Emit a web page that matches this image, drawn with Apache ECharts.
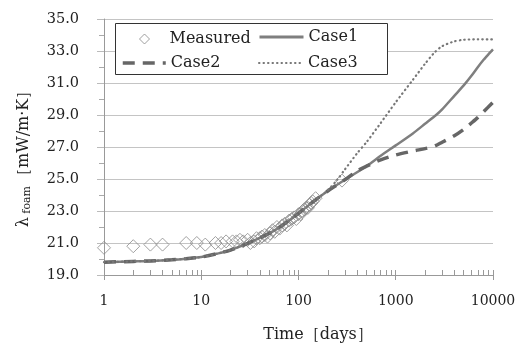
<!DOCTYPE html>
<html><head><meta charset="utf-8">
<script src="https://cdn.jsdelivr.net/npm/echarts@6/dist/echarts.min.js"></script>
<style>html,body{margin:0;padding:0;background:#fff}#c{width:528px;height:345px}</style>
</head><body><div id="c"></div>
<script>
// Measured data
var measX = [1,2,3,4,7,9,11,14,16,18,21,23,25,27,30,32,35,37,40,42,45,48,51,54,57,60,64,68,72,76,80,85,90,95,100,105,110,115,120,125,130,135,140,150,280];
var measY = [20.7,20.8,20.9,20.9,21.0,21.0,20.9,21.0,21.0,21.1,21.1,21.1,21.2,21.1,21.2,21.0,21.1,21.3,21.3,21.4,21.5,21.4,21.6,21.8,21.7,22.0,21.9,22.1,22.2,22.1,22.4,22.5,22.6,22.5,22.8,22.8,23.0,23.1,23.2,23.2,23.4,23.5,23.6,23.8,24.9];
// Model curves
var case1X = [1,2,3,5,7,10,15,20,30,50,70,100,150,200,300,500,700,1000,1500,2000,2600,3000,4000,5000,6000,7000,8000,9000,10000];
var case1Y = [19.8,19.85,19.88,19.95,20.02,20.12,20.35,20.56,20.98,21.6,22.15,22.85,23.7,24.25,24.95,25.8,26.45,27.1,27.85,28.45,29.0,29.35,30.2,30.85,31.45,32.0,32.45,32.8,33.1];
var case2X = [1,2,3,5,7,10,15,20,30,50,70,100,150,200,300,400,500,700,1000,1500,2000,2500,3000,4000,5000,6000,7000,8000,10000];
var case2Y = [19.8,19.85,19.88,19.95,20.02,20.12,20.35,20.56,20.98,21.6,22.15,22.85,23.7,24.25,24.95,25.5,25.8,26.2,26.5,26.75,26.9,27.05,27.3,27.7,28.1,28.5,28.85,29.2,29.8];
var case3X = [1,2,3,5,7,10,15,20,30,50,70,100,150,200,250,300,400,500,700,1000,1500,2000,2500,3000,4000,5000,7000,10000];
var case3Y = [19.8,19.85,19.88,19.95,20.02,20.12,20.35,20.56,20.98,21.6,22.15,22.85,23.7,24.3,24.95,25.6,26.6,27.3,28.5,29.8,31.2,32.2,32.9,33.3,33.6,33.7,33.73,33.72];
var xTickLabels = ['1','10','100','1000','10000'];

function pairs(xs, ys){ return xs.map(function(x,i){ return [x, ys[i]]; }); }

var FONT = 'DejaVu Serif';
var hideSym = {color:'rgba(0,0,0,0)', borderWidth:0, opacity:0};
var chart = echarts.init(document.getElementById('c'), null, {renderer:'canvas'});
chart.setOption({
  animation:false,
  backgroundColor:'#fff',
  grid:{left:104, right:35, top:19, bottom:70, containLabel:false},
  xAxis:[{
    type:'log', logBase:10, min:1, max:10000,
    axisLine:{show:true, lineStyle:{color:'#999', width:1}},
    axisTick:{show:true, length:5, lineStyle:{color:'#999'}},
    minorTick:{show:false},
    splitLine:{show:false},
    axisLabel:{fontFamily:FONT, fontSize:14, color:'#222', margin:19,
      formatter:function(v){ var s=String(Math.round(v)); return xTickLabels.indexOf(s)>=0?s:''; }}
  },{
    type:'log', logBase:10, min:1, max:10000, position:'bottom', offset:0,
    axisLine:{show:false},
    axisTick:{show:true, inside:true, length:5, lineStyle:{color:'#999'}},
    minorTick:{show:true, splitNumber:9, length:5, lineStyle:{color:'#999'}},
    splitLine:{show:false},
    axisLabel:{show:false}
  }],
  yAxis:{
    type:'value', min:19, max:35, interval:2,
    axisLine:{show:true, lineStyle:{color:'#999', width:1}},
    axisTick:{show:true, length:7, lineStyle:{color:'#bbb'}},
    minorTick:{show:true, splitNumber:2, length:5, lineStyle:{color:'#aaa'}},
    splitLine:{show:true, lineStyle:{color:'#c4c4c4', width:1}},
    axisLabel:{fontFamily:FONT, fontSize:14.5, color:'#222', margin:25,
      formatter:function(v){ return v.toFixed(1); }}
  },
  legend:[
    {data:[{name:'Measured', icon:'diamond'}], left:139, top:31, padding:0, itemWidth:10, itemHeight:10, selectedMode:false,
     itemStyle:{color:'#fff', borderColor:'#888', borderWidth:1},
     textStyle:{fontFamily:FONT, fontSize:16, color:'#222', padding:[0,0,0,15]}},
    {data:['Case1'], left:258, top:29, padding:0, itemWidth:44, itemHeight:14, selectedMode:false, itemStyle:hideSym,
     lineStyle:{width:3}, textStyle:{fontFamily:FONT, fontSize:16, color:'#222'}},
    {data:['Case2'], left:121, top:55, padding:0, itemWidth:43, itemHeight:14, selectedMode:false, itemStyle:hideSym,
     lineStyle:{width:3.5}, textStyle:{fontFamily:FONT, fontSize:16, color:'#222'}},
    {data:['Case3'], left:258, top:55, padding:0, itemWidth:44, itemHeight:14, selectedMode:false, itemStyle:hideSym,
     lineStyle:{width:2}, textStyle:{fontFamily:FONT, fontSize:16, color:'#222'}}
  ],
  graphic:[
    {type:'rect', z:3, shape:{x:115.5, y:23.5, width:272, height:51}, style:{fill:'#fff', stroke:'#333', lineWidth:1}},
    {type:'text', z:5, x:318, y:335, style:{text:'Time［days］', font:'16px "DejaVu Serif"', fill:'#222', align:'center', verticalAlign:'middle'}},
    {type:'text', z:5, x:24, y:155, rotation:Math.PI/2,
     style:{text:'{a|λ}{b| foam}{a|［mW/m·K］}', align:'center', verticalAlign:'middle',
       rich:{a:{fontFamily:FONT, fontSize:16, fill:'#222'},
             b:{fontFamily:FONT, fontSize:11, fill:'#222', verticalAlign:'bottom', padding:[6,2,0,0]}}}}
  ],
  series:[
    {name:'Measured', type:'scatter', data:pairs(measX, measY), symbol:'diamond', symbolSize:13,
     itemStyle:{color:'rgba(255,255,255,0)', borderColor:'#8a8a8a', borderWidth:1}, z:2},
    {name:'Case1', type:'line', data:pairs(case1X, case1Y), showSymbol:false, symbol:'none', smooth:0.25,
     lineStyle:{color:'#7f7f7f', width:2.5}, itemStyle:{color:'#7f7f7f'}, z:3},
    {name:'Case2', type:'line', data:pairs(case2X, case2Y), showSymbol:false, symbol:'none', smooth:0.25,
     lineStyle:{color:'#666', width:3.5, type:[12,8]}, itemStyle:{color:'#666'}, z:4},
    {name:'Case3', type:'line', data:pairs(case3X, case3Y), showSymbol:false, symbol:'none', smooth:0.25,
     lineStyle:{color:'#777', width:2.2, type:[0.5,4], cap:'round'}, itemStyle:{color:'#777'}, z:4}
  ]
});
</script></body></html>
